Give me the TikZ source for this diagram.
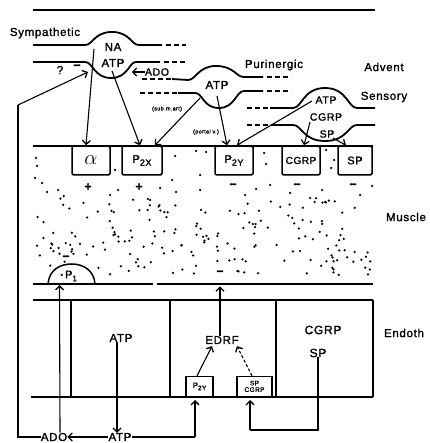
\documentclass[tikz,border=0pt]{standalone}
\usepackage{fontspec}
\setmainfont{Liberation Sans}[LetterSpace=6,FakeBold=1.5]
\usetikzlibrary{arrows.meta}
\begin{document}
\begin{tikzpicture}[x=1pt,y=-1pt,
  nerve/.style={line width=1.8pt},
  nervedash/.style={line width=1.8pt, dash pattern=on 5pt off 3pt},
  layer/.style={line width=2pt},
  conn/.style={line width=1.1pt},
  arr/.style={line width=1.1pt,-{Straight Barb[length=4pt,width=8pt,line width=1.3pt]}},
  dasharr/.style={arr, dash pattern=on 3pt off 2pt},
  lbl/.style={font=\fontsize{11.5}{12}\selectfont, inner sep=0pt},
  mid/.style={font=\fontsize{10.5}{11}\selectfont, inner sep=0pt},
  big/.style={font=\fontsize{12}{13}\selectfont, inner sep=0pt},
  tiny/.style={font=\fontsize{5.5}{6}\selectfont, inner sep=0pt},
  rec/.style={draw, line width=1.5pt, rounded corners=1.5pt, minimum height=29pt, inner sep=0pt, font=\fontsize{11}{12}\selectfont},
  srec/.style={draw, line width=1.2pt, minimum height=20pt, inner sep=0pt},
  sign/.style={font=\bfseries\fontsize{12}{12}\selectfont, inner sep=0pt},
  dotst/.style={fill=black}
]
\useasboundingbox (0,0) rectangle (429,443);

% top rule
\draw[line width=2.4pt] (33,10) -- (375,10);

% ---------- Sympathetic nerve ----------
\draw[nerve] (33,45) -- (85,45) .. controls (93,45) and (94,32) .. (112,32) .. controls (130,32) and (131,45) .. (139,45) -- (162,45);
\draw[nervedash] (166,45) -- (186,45);
\draw[nerve] (33,62) -- (85,62) .. controls (93,62) and (94,78) .. (111,78) .. controls (128,78) and (129,62) .. (136,62) -- (160,62);
\draw[nervedash] (164,62) -- (186,62);
\node[lbl] (symp) at (45,33) {Sympathetic};
\node[lbl] (na) at (113,47) {NA};
\node[lbl] (satp) at (113,63) {ATP};
\node[lbl] (q) at (60,70) {?};
\node[sign] (qm) at (77,67) {\textminus};
\node[mid] (sado) at (157,72) {ADO};

% ---------- Purinergic nerve ----------
\draw[nervedash] (142,79) -- (172,79);
\draw[nerve] (172,79) -- (188,80) .. controls (196,80) and (198,66) .. (216,66) .. controls (234,66) and (236,77) .. (244,77) -- (263,77);
\draw[nervedash] (267,77) -- (291,77);
\draw[nervedash] (140,93) -- (178,93);
\draw[nerve] (178,93) -- (195,93) .. controls (203,93) and (203,108) .. (219,108) .. controls (235,108) and (236,91) .. (244,91) -- (263,91);
\draw[nervedash] (267,91) -- (291,91);
\node[lbl] (puri) at (274,65) {Purinergic};
\node[lbl] (patp) at (217,85) {ATP};
\node[tiny] (subm) at (167,109) {(sub.m.art)};
\node[tiny] (portal) at (206,132) {(portal v.)};

% ---------- Sensory nerve ----------
\draw[nervedash] (247,108) -- (270,108);
\draw[nerve] (270,108) -- (293,108) .. controls (302,108) and (303,88) .. (325,88) .. controls (347,88) and (348,108) .. (357,108) -- (375,108);
\draw[nervedash] (247,125) -- (275,125);
\draw[nerve] (275,125) -- (293,125) .. controls (302,125) and (303,141) .. (325,141) .. controls (347,141) and (348,125) .. (357,125) -- (375,125);
\node[mid] (senatp) at (326,100) {ATP};
\node[mid] (sencgrp) at (326,117) {CGRP};
\node[mid] (sensp) at (327,134) {SP};
\node[lbl] (advent) at (384,67) {Advent};
\node[lbl] (sensory) at (384,97) {Sensory};

% ---------- Muscle ----------
\draw[layer] (33,146) -- (373,146);
\draw[layer] (33,284) -- (153,284);
\draw[layer] (157,284) -- (373,284);
\node[rec, minimum width=38pt, font=\fontsize{20}{20}\selectfont] (alpha) at (91,160.5) {$\alpha$};
\node[rec, minimum width=40pt] (p2x) at (142,160.5) {P\raisebox{-0.5ex}{\fontsize{9}{9}\selectfont 2X}};
\node[rec, minimum width=38pt] (p2y) at (234,160.5) {P\raisebox{-0.5ex}{\fontsize{9}{9}\selectfont 2Y}};
\node[rec, minimum width=38pt, font=\fontsize{10}{11}\selectfont] (cgrpr) at (301,160.5) {CGRP};
\node[rec, minimum width=34pt] (spr) at (355,160.5) {SP};
\node[sign] (pl1) at (88,187) {+};
\node[sign] (pl2) at (139,187) {+};
\node[sign] (mi1) at (233,186) {\textminus};
\node[sign] (mi2) at (297,186) {\textminus};
\node[sign] (mi3) at (353,186) {\textminus};
\node[lbl] (muscle) at (406,217) {Muscle};
% P1 receptor
\draw[line width=1.5pt] (48,284) .. controls (49,270) and (60,264) .. (71.5,264) .. controls (83,264) and (94,270) .. (95,284);
\node[font=\fontsize{11}{11}\selectfont, inner sep=0pt] (p1) at (71,276) {P\raisebox{-0.5ex}{\fontsize{8}{8}\selectfont 1}};
\node[sign] (mp1) at (66,258) {\textminus};
\node[sign] (medrf) at (220,273) {\textminus};

% muscle dots
\pgfmathsetseed{1234}
\foreach \i in {1,...,190}{
  \pgfmathsetmacro\dx{37+334*rnd}
  \pgfmathsetmacro\dy{196+80*rnd}
  \fill[dotst] (\dx,\dy) circle (1.25);
}
\foreach \p in {(36,158),(37,166),(35,178),(42,183),(115,170),(118,190),(175,156),(172,180),(196,151),(206,152),(200,175),(264,153),(266,164),(270,185),(326,150),(331,168),(334,160),(176,192),(200,190),(322,190),(290,193),(256,189),(160,188),(58,190),(110,195),(372,186),(47,192),(150,200),(245,195),(310,198),(360,195)}{
  \fill[dotst] \p circle (1.25);
}

% ---------- Endothelium ----------
\draw[layer] (33,300) -- (373,300);
\draw[layer] (31,397) -- (373,397);
\draw[layer] (71,300) -- (71,397);
\draw[layer] (170,300) -- (170,397);
\draw[layer] (276,300) -- (276,397);
\draw[layer] (373,300) -- (373,397);
\node[lbl] (eatp) at (121,338) {ATP};
\node[lbl] (edrf) at (222,340) {EDRF};
\node[big] (ecgrp) at (323,330) {CGRP};
\node[big] (esp) at (318,353) {SP};
\node[lbl] (endoth) at (404,333) {Endoth};
\node[srec, minimum width=27pt, anchor=south] (ep2y) at (199.5,397) {\fontsize{8}{8}\selectfont P\raisebox{-0.5ex}{\fontsize{6.5}{6.5}\selectfont 2Y}};
\node[srec, minimum width=35pt, anchor=south, align=center, font=\fontsize{6.5}{6.5}\selectfont] (espc) at (254.5,397) {SP\\CGRP};

% bottom labels
\node[lbl] (bado) at (54,437) {ADO};
\node[lbl] (batp) at (120,437) {ATP};

% ---------- connectors ----------
\coordinate (fbcorner1) at (18,437);
\coordinate (fbcorner2) at (18,105);
\coordinate (fbtip) at (88,72);
\coordinate (p2yloop) at (195,437);
\coordinate (sploop1) at (318,430);
\coordinate (sploop2) at (250,430);

\draw[arr] ([xshift=-19pt,yshift=-2pt]na.center) -- ([xshift=-5pt]alpha.north);
\draw[arr] ([xshift=-1pt,yshift=-8pt]satp.center) -- ([xshift=-2pt]p2x.north);
\draw[arr] ([xshift=-17pt,yshift=-13pt]patp.center) -- ([xshift=13pt]p2x.north);
\draw[arr] ([yshift=-11pt]patp.center) -- ([xshift=-7pt]p2y.north);
\draw[arr] ([xshift=-14pt,yshift=-1pt]senatp.center) -- ([xshift=3pt]p2y.north);
\draw[arr] ([xshift=-16pt,yshift=-5pt]sencgrp.center) -- ([xshift=3pt]cgrpr.north);
\draw[arr] ([xshift=6pt,yshift=-4pt]sensp.center) -- ([xshift=-9pt]spr.north);
\draw[arr] (sado.west) -- ([xshift=-13pt]sado.west);

\draw[conn] (bado.west) -- (fbcorner1) -- (fbcorner2);
\draw[arr] (fbcorner2) -- (fbtip);
\draw[arr] ([xshift=6pt]bado.north) -- ([xshift=-11.5pt,yshift=-1pt]p1.south |- 0,284);
\draw[arr] (batp.west) -- (bado.east);
\draw[arr] ([xshift=-4pt]eatp.south) -- ([xshift=-3pt]batp.north);
\draw[conn] (batp.east) -- (p2yloop);
\draw[arr] (p2yloop) -- ([xshift=-4.5pt,yshift=-3pt]ep2y.south);
\draw[conn] (esp.south) -- (sploop1) -- (sploop2);
\draw[arr] (sploop2) -- ([xshift=-4.5pt,yshift=-3pt]espc.south);
\draw[arr] ([xshift=-2.5pt]ep2y.north) -- ([xshift=-10pt,yshift=-2pt]edrf.south);
\draw[dasharr] ([xshift=-2.5pt]espc.north) -- ([xshift=15pt,yshift=-2pt]edrf.south);
\draw[arr] ([xshift=-2pt]edrf.north) -- ([xshift=-2pt,yshift=49.5pt]edrf.north);
\end{tikzpicture}
\end{document}
